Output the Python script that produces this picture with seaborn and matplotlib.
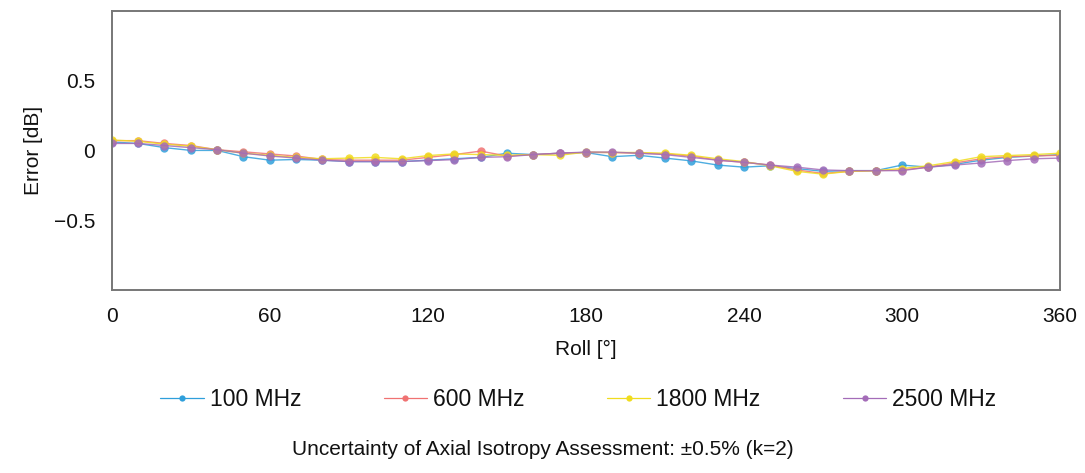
import matplotlib
matplotlib.use('Agg')
import matplotlib.pyplot as plt
import seaborn as sns
import pandas as pd
import numpy as np

# Данные: ошибка осевой изотропии по углу Roll
roll_deg = list(range(0, 361, 10))
freq_labels = ['100 MHz', '600 MHz', '1800 MHz', '2500 MHz']

err_100 = [0.06, 0.05, 0.02, 0.00, 0.00, -0.045, -0.07, -0.065, -0.07, -0.08,
           -0.08, -0.08, -0.07, -0.06, -0.05, -0.02, -0.03, -0.02, -0.015, -0.045,
           -0.035, -0.055, -0.075, -0.105, -0.12, -0.11, -0.13, -0.15, -0.145, -0.145,
           -0.105, -0.12, -0.10, -0.07, -0.05, -0.04, -0.03]
err_600 = [0.07, 0.07, 0.05, 0.035, 0.005, -0.01, -0.025, -0.04, -0.065, -0.07,
           -0.07, -0.07, -0.05, -0.03, -0.005, -0.04, -0.03, -0.02, -0.015, -0.015,
           -0.02, -0.025, -0.04, -0.07, -0.085, -0.105, -0.14, -0.165, -0.15, -0.145,
           -0.14, -0.12, -0.09, -0.06, -0.045, -0.04, -0.035]
err_1800 = [0.075, 0.065, 0.045, 0.03, 0.005, -0.02, -0.035, -0.05, -0.06, -0.055,
            -0.05, -0.06, -0.037, -0.025, -0.03, -0.035, -0.03, -0.035, -0.012, -0.015,
            -0.015, -0.02, -0.035, -0.06, -0.08, -0.11, -0.15, -0.17, -0.15, -0.145,
            -0.13, -0.11, -0.08, -0.045, -0.037, -0.03, -0.02]
err_2500 = [0.05, 0.05, 0.035, 0.02, 0.005, -0.02, -0.04, -0.055, -0.07, -0.08,
            -0.08, -0.08, -0.073, -0.066, -0.05, -0.045, -0.03, -0.02, -0.012, -0.012,
            -0.02, -0.03, -0.05, -0.07, -0.085, -0.105, -0.12, -0.14, -0.145, -0.145,
            -0.145, -0.12, -0.105, -0.09, -0.073, -0.06, -0.055]

x_ticks = [0, 60, 120, 180, 240, 300, 360]
y_ticks = [-0.5, 0, 0.5]
y_tick_labels = ['\u22120.5', '0', '0.5']
footer = 'Uncertainty of Axial Isotropy Assessment: \u00b10.5% (k=2)'

colors = ['#2f9fdb', '#f07272', '#f0dc1e', '#a46cb8']

df = pd.DataFrame({
    'Roll': roll_deg * 4,
    'Error': err_100 + err_600 + err_1800 + err_2500,
    'Freq': np.repeat(freq_labels, len(roll_deg)),
})

sns.set_theme(style='white')
plt.rcParams['font.family'] = ['Liberation Sans', 'DejaVu Sans']

fig = plt.figure(figsize=(10.85, 4.73), dpi=100)
ax = fig.add_axes([0.103, 0.387, 0.874, 0.590])

sns.lineplot(data=df, x='Roll', y='Error', hue='Freq', hue_order=freq_labels,
             palette=colors, marker='o', markersize=6, markeredgewidth=0,
             linewidth=1.0, alpha=0.85, ax=ax, legend=False)

ax.set_xlim(0, 360)
ax.set_ylim(-1, 1)
ax.set_xticks(x_ticks)
ax.set_yticks(y_ticks)
ax.set_yticklabels(y_tick_labels)
ax.tick_params(axis='both', length=0, labelsize=15, pad=12, colors='#111111')
ax.set_xlabel('Roll [\u00b0]', fontsize=15, labelpad=10, color='#111111')
ax.set_ylabel('Error [dB]', fontsize=15, labelpad=8, color='#111111')
for s in ax.spines.values():
    s.set_color('#777777')
    s.set_linewidth(1.4)

# Легенда
handles = [plt.Line2D([], [], color=c, marker='o', markersize=4.5, markeredgewidth=0,
                      linewidth=0.9) for c in colors]
fig.legend(handles, freq_labels, loc='center', bbox_to_anchor=(0.533, 0.155),
           ncol=4, frameon=False, fontsize=16.5, handlelength=1.9,
           handletextpad=0.25, columnspacing=3.6, labelcolor='#111111')

fig.text(0.5, 0.049, footer, ha='center', va='center', fontsize=15, color='#111111')

plt.savefig('out.png', dpi=100)
plt.close()
